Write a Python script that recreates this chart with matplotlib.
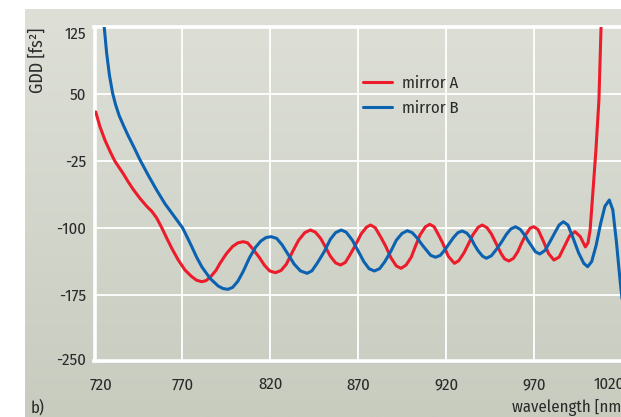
import numpy as np
import matplotlib
matplotlib.use("Agg")
import matplotlib.pyplot as plt
import matplotlib.transforms as mtransforms

plt.rcParams['font.family'] = ['Fira Sans Condensed', 'PT Sans Narrow', 'Liberation Sans', 'DejaVu Sans']

# ---- data ----
red_x = [720.7, 723, 726, 729, 731.5, 734, 736.4, 739, 742, 746, 749.7, 752.5, 755.3, 758.2, 761, 764, 767.5,
         771.4, 775, 778, 780.9, 783.3, 785.7, 789, 791.3, 795, 798.5, 801.5, 804.5, 807, 810, 813.5, 816.5,
         819.5, 822.8, 826, 829, 832.5, 836, 839.5, 842.7, 845.5, 848.5, 851.3, 854, 857, 859.8, 862.5, 865,
         868.3, 871.5, 874.5, 876.8, 879.5, 882.5, 885.5, 888.5, 891.5, 894.2, 897, 900, 902.3, 905, 908,
         910.5, 913, 916, 918, 921, 924.5, 927, 930, 932.4, 935, 938, 940.3, 943, 945.5, 948, 951, 953,
         955.4, 958, 960.5, 962.5, 965, 967.5, 969.6, 972, 975, 978, 981, 984, 987, 990, 993, 996, 998.9,
         1000.4, 1001.6, 1003.4, 1004.9, 1006.6, 1007.8, 1008.5]
red_y = [30, 14, -2, -15, -25, -32.5, -39.5, -48, -57, -67.5, -76, -81.5, -89, -100, -111.5, -123.5, -136,
         -147.5, -154.5, -159, -160.6, -159.5, -155.7, -148, -140, -129, -121, -117, -115.7, -117, -124, -133, -142,
         -148.5, -150.5, -148, -141, -127, -114, -105.5, -102.6, -105, -112, -122, -132, -139.5, -141.9, -139, -131,
         -119.5, -107, -99.5, -97, -100, -110, -121, -134, -143, -145.6, -142, -133, -121, -108, -99,
         -96.2, -99, -110, -118, -132, -140, -137, -128, -118.5, -108, -99.5, -97, -100, -107, -117, -129, -135,
         -137.4, -134.5, -127, -118, -108, -100.5, -98.9, -102, -115, -129, -136.3, -133, -121, -109, -104.5, -110, -121.6,
         -117, -102.6, -54, -12.8, 43.3, 124, 170]

blue_x = [725.3, 726.9, 728.5, 730.3, 732, 734, 736.4, 739.2, 742.5, 745.9, 750.5, 755.3, 760, 765, 770, 772.5,
          775.2, 778, 781, 785.7, 790.3, 793, 795.8, 798.5, 801.5, 804.5, 808, 811.5, 814.5, 817.5, 820.4,
          823.5, 826.5, 830, 833.5, 837, 840.8, 843.5, 846.5, 850.5, 854, 857, 860.2, 863, 866.5, 869.5,
          873, 876, 879, 882, 885, 888.5, 891.5, 894.7, 897.7, 900.5, 903.5, 905.8, 908.5, 911, 913.8,
          916.5, 919, 921.3, 924, 926.5, 928.9, 931.5, 934, 935.8, 938, 940.5, 942.7, 945.5, 948.5, 951,
          954, 956.5, 959.2, 962, 965, 966.1, 968.5, 970.5, 973, 976, 979, 982, 984, 986.4, 989, 992, 995,
          998, 1000.2, 1002.5, 1005, 1007.5, 1010, 1012.5, 1014.5, 1016.5, 1018.6, 1020]
blue_y = [130, 96, 71, 51, 38, 26, 15, 3, -10, -24, -41, -57.7, -73, -86.5, -100, -110,
          -121, -133, -144, -157, -165.5, -168.3, -169.2, -167, -160, -149, -134, -122, -115, -111, -110.1,
          -112, -119, -130, -141, -148.5, -151.2, -148.5, -140, -127, -113, -105.5, -102.6, -105, -114, -125,
          -138, -146, -148.6, -146, -138, -126, -114, -106.5, -103.4, -105.5, -112, -118.3, -125, -131, -133.2,
          -131, -125, -118.5, -111, -105.5, -103.7, -106, -112, -119, -126, -132, -134.3, -131.5, -124, -117,
          -107.5, -101.5, -98.9, -102, -110, -114, -121, -127, -129.5, -125.5, -115, -104, -97, -93.3, -97, -112, -128,
          -140, -143.8, -138, -120, -96, -76, -68.9, -80, -115, -158.7, -185]

x_ticks = [720, 770, 820, 870, 920, 970, 1020]
y_ticks = [125, 50, -25, -100, -175, -250]
series_labels = ["mirror A", "mirror B"]

RED = "#ec1c2a"
BLUE = "#0b62b0"
TXT = "#2a2a2a"
FS = 12

W, H = 621, 417
fig = plt.figure(figsize=(W / 100, H / 100), dpi=100)
fig.patch.set_facecolor("white")

def fx(px):
    return px / W

def fy(py):
    return 1 - py / H

# gradient panel
bg = fig.add_axes([fx(25), 0, 1 - fx(25), fy(9)], zorder=0)
top = np.array([222, 224, 216]) / 255
bot = np.array([200, 204, 191]) / 255
t = np.linspace(0, 1, 256)[:, None]
grad = (top[None, :] * (1 - t) + bot[None, :] * t)[:, None, :]
bg.imshow(grad, aspect="auto", extent=[0, 1, 0, 1])
bg.set_axis_off()

# main axes
L, R, T, B = 94.5, 622.5, 27.3, 361.3
ax = fig.add_axes([fx(L), fy(B), (R - L) / W, (B - T) / H], zorder=1)
ax.patch.set_alpha(0)
ax.set_xlim(720, 1020)
ax.set_ylim(-250, 125)

ax.plot(red_x, red_y, color=RED, lw=2.2, label=series_labels[0], solid_capstyle="round",
        solid_joinstyle="round", zorder=3)
ax.plot(blue_x, blue_y, color=BLUE, lw=2.2, label=series_labels[1], solid_capstyle="round",
        solid_joinstyle="round", zorder=3)

ax.set_xticks(x_ticks)
ax.set_yticks(y_ticks)
ax.set_xticklabels([str(v) for v in x_ticks])
ax.set_yticklabels([str(v) for v in y_ticks])
ax.grid(True, color="white", lw=1.3, zorder=1)
ax.tick_params(length=0, labelsize=FS, labelcolor=TXT)
ax.tick_params(axis="y", pad=6)
ax.tick_params(axis="x", pad=11)

for s in ["left", "top", "bottom"]:
    ax.spines[s].set_color("white")
    ax.spines[s].set_linewidth(2.6)
ax.spines["right"].set_visible(False)

# nudge edge tick labels like in the reference
xl = ax.get_xticklabels()
xl[0].set_transform(xl[0].get_transform() + mtransforms.ScaledTranslation(7 / 100, 0, fig.dpi_scale_trans))
xl[-1].set_transform(xl[-1].get_transform() + mtransforms.ScaledTranslation(-13 / 100, 0, fig.dpi_scale_trans))
yl = ax.get_yticklabels()
yl[0].set_transform(yl[0].get_transform() + mtransforms.ScaledTranslation(0, -5 / 100, fig.dpi_scale_trans))
yl[-1].set_transform(yl[-1].get_transform() + mtransforms.ScaledTranslation(0, 3 / 100, fig.dpi_scale_trans))

leg = ax.legend(loc="upper left", bbox_to_anchor=(fx(363), fy(75.5)), bbox_transform=fig.transFigure,
                frameon=False, fontsize=FS, handlelength=1.75, handletextpad=0.6,
                labelspacing=0.5, borderpad=0, borderaxespad=0)
for txt in leg.get_texts():
    txt.set_color(TXT)

fig.text(fx(38), fy(60), "GDD [fs²]", rotation=90, ha="center", va="center",
         fontsize=13, color=TXT)
fig.text(fx(512), fy(408), "wavelength [nm]", ha="left", va="center", fontsize=FS, color=TXT)
fig.text(fx(31), fy(408), "b)", ha="left", va="center", fontsize=FS, color=TXT)

fig.savefig("out.png", dpi=100)
